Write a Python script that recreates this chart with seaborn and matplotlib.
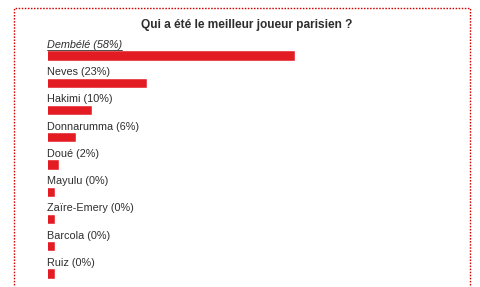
import matplotlib
matplotlib.use("Agg")
import matplotlib.pyplot as plt
import matplotlib.patches as mpatches
from matplotlib.lines import Line2D
from matplotlib.transforms import IdentityTransform
import numpy as np
import pandas as pd
import seaborn as sns

# ---- data ----
players = ["Dembélé", "Neves", "Hakimi", "Donnarumma", "Doué",
           "Mayulu", "Zaïre-Emery", "Barcola", "Ruiz"]
percent = [58, 23, 10, 6, 2, 0, 0, 0, 0]
title = "Qui a été le meilleur joueur parisien ?"

# ---- style ----
sns.set_style("white")
plt.rcParams["font.family"] = ["Liberation Sans", "DejaVu Sans"]
RED = "#e31b23"
TXT = "#2e2e2e"

W, H, DPI = 481, 287, 100
fig = plt.figure(figsize=(W / DPI, H / DPI), dpi=DPI)
fig.patch.set_facecolor("white")

px_per_pct = 4.214
edge_px = 2.57
min_bar = 1.05  # minimum visible bar (in %)

ax_left_px = 47 + edge_px / 2
ax_w_px = 420
row_px = 27.25
top_px = 55.5 - row_px / 2
ax_h_px = row_px * len(players)
ax = fig.add_axes([ax_left_px / W, (H - top_px - ax_h_px) / H,
                   ax_w_px / W, ax_h_px / H])

df = pd.DataFrame({"player": players, "pct": percent})
df["shown"] = np.maximum(df["pct"], min_bar)

bar_face = (9 - edge_px) / row_px
sns.barplot(data=df, x="shown", y="player", orient="h", color=RED,
            saturation=1, width=bar_face, linewidth=edge_px * 72 / DPI,
            edgecolor=RED, ax=ax)

ax.set_xlim(0, ax_w_px / px_per_pct)
ax.set_ylim(len(players) - 0.5, -0.5)
ax.axis("off")

label_dx = -(edge_px / 2) / px_per_pct
label_dy = 7.5 / row_px
texts = []
for i, (name, p) in enumerate(zip(players, percent)):
    t = ax.text(label_dx, i - label_dy, f"{name} ({p}%)",
                fontsize=7.8, color=TXT, va="baseline", ha="left",
                style="italic" if i == 0 else "normal")
    texts.append(t)

fig.text(247 / W, 1 - 28 / H, title, ha="center", va="baseline",
         fontsize=8.6, fontweight="bold", color=TXT)

# dotted border
border = mpatches.Rectangle((13.5, -10), 456, H - 7.5 + 10, fill=False,
                            edgecolor="#d00000", linewidth=1.0,
                            linestyle=(0, (1.1, 1.1)),
                            transform=IdentityTransform())
fig.add_artist(border)

# underline of leading answer
fig.canvas.draw()
bb = texts[0].get_window_extent()
yline = H - 50.3
fig.add_artist(Line2D([bb.x0, bb.x1], [yline, yline], color=TXT,
                      linewidth=0.6, transform=IdentityTransform()))

fig.savefig("out.png", dpi=DPI, facecolor="white")
